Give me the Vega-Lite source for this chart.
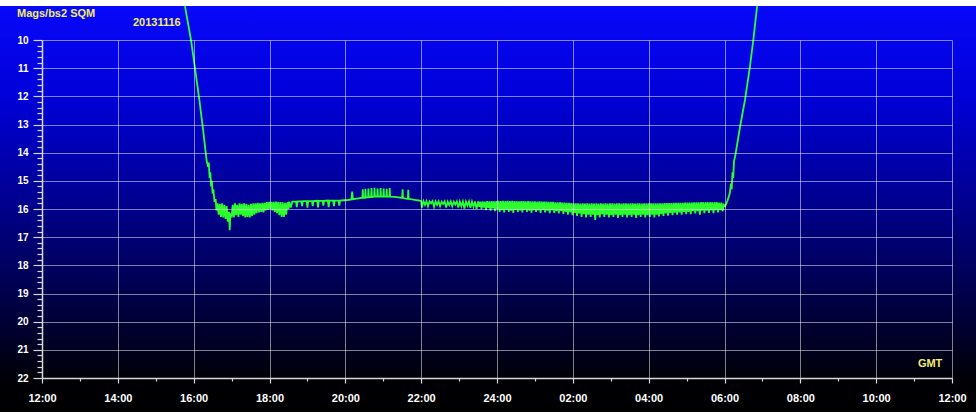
{
 "$schema": "https://vega.github.io/schema/vega-lite/v6.json",
 "width": 910,
 "height": 338,
 "autosize": {"type": "none"},
 "padding": {"left": 42, "top": 40, "right": 24, "bottom": 34},
 "background": "#ffffff",
 "config": {
  "view": {"stroke": null},
  "axis": {"labelFont": "Liberation Sans", "labelFontWeight": "bold", "labelColor": "#ffffff", "domainColor": "#d8d8d8", "domainWidth": 1.5, "tickColor": "#d8d8d8", "tickWidth": 1.2, "gridColor": "#ffffff", "gridWidth": 1}
 },
 "datasets": {
  "bg": [{"x0": 10.8, "x1": 36.7, "y0": 8.79, "y1": 23.4}],
  "notes": [
   {"t": 11.34, "v": 9.19, "label": "Mags/bs2 SQM"},
   {"t": 14.40, "v": 9.50, "label": "20131116"},
   {"t": 35.10, "v": 21.62, "label": "GMT"}
  ],
  "sqm": [
   {"t":15.77,"v":8.8},{"t":15.85,"v":9.4},{"t":15.93,"v":10.0},{"t":16.04,"v":11.05},{"t":16.15,"v":12.13},{"t":16.25,"v":13.2},{"t":16.34,"v":14.26},{"t":16.38,"v":14.5},{"t":16.40,"v":14.35},{"t":16.42,"v":14.9},{"t":16.44,"v":14.7},{"t":16.46,"v":15.2},{"t":16.48,"v":15.0},{"t":16.50,"v":15.45},{"t":16.52,"v":15.3},{"t":16.55,"v":15.75},{"t":16.58,"v":15.65},
   {"t":16.60,"v":16.05},{"t":16.63,"v":15.8},{"t":16.66,"v":16.2},{"t":16.69,"v":15.82},{"t":16.72,"v":16.28},{"t":16.75,"v":15.8},{"t":16.78,"v":16.3},{"t":16.81,"v":15.85},{"t":16.84,"v":16.35},{"t":16.87,"v":15.9},{"t":16.90,"v":16.45},{"t":16.93,"v":16.1},{"t":16.95,"v":16.75},{"t":16.97,"v":16.15},{"t":17.00,"v":16.3},{"t":17.03,"v":15.85},{"t":17.06,"v":16.3},{"t":17.09,"v":15.8},{"t":17.12,"v":16.22},{"t":17.15,"v":15.85},{"t":17.18,"v":16.28},{"t":17.21,"v":15.8},{"t":17.24,"v":16.2},{"t":17.27,"v":15.82},{"t":17.30,"v":16.25},{"t":17.33,"v":15.8},{"t":17.36,"v":16.3},{"t":17.39,"v":15.82},{"t":17.42,"v":16.28},{"t":17.45,"v":15.85},{"t":17.48,"v":16.3},{"t":17.51,"v":15.82},{"t":17.54,"v":16.25},{"t":17.57,"v":15.8},{"t":17.60,"v":16.2},{"t":17.63,"v":15.8},{"t":17.66,"v":16.15},{"t":17.69,"v":15.78},{"t":17.72,"v":16.12},{"t":17.75,"v":15.8},{"t":17.78,"v":16.1},{"t":17.81,"v":15.78},{"t":17.84,"v":16.12},{"t":17.87,"v":15.78},{"t":17.90,"v":16.05},{"t":17.93,"v":15.76},{"t":17.96,"v":16.02},{"t":17.99,"v":15.75},{"t":18.02,"v":16.0},{"t":18.05,"v":15.75},{"t":18.08,"v":16.05},{"t":18.11,"v":15.75},{"t":18.14,"v":16.1},{"t":18.17,"v":15.74},{"t":18.20,"v":16.15},{"t":18.23,"v":15.75},{"t":18.26,"v":16.22},{"t":18.29,"v":15.75},{"t":18.32,"v":16.28},{"t":18.35,"v":15.76},{"t":18.38,"v":16.28},{"t":18.41,"v":15.78},{"t":18.44,"v":16.2},{"t":18.47,"v":15.76},{"t":18.50,"v":16.0},{"t":18.52,"v":15.74},
   {"t":18.56,"v":15.95},{"t":18.60,"v":15.74},{"t":18.70,"v":15.73},{"t":18.72,"v":15.93},{"t":18.74,"v":15.73},{"t":18.84,"v":15.72},{"t":18.86,"v":15.9},{"t":18.88,"v":15.72},{"t":18.98,"v":15.72},{"t":19.00,"v":15.95},{"t":19.02,"v":15.72},{"t":19.12,"v":15.72},{"t":19.14,"v":15.9},{"t":19.16,"v":15.72},{"t":19.26,"v":15.71},{"t":19.28,"v":15.94},{"t":19.30,"v":15.71},{"t":19.40,"v":15.71},{"t":19.42,"v":15.88},{"t":19.44,"v":15.71},{"t":19.54,"v":15.7},{"t":19.56,"v":15.93},{"t":19.58,"v":15.7},{"t":19.68,"v":15.7},{"t":19.70,"v":15.9},{"t":19.72,"v":15.7},{"t":19.82,"v":15.7},{"t":19.84,"v":15.88},{"t":19.86,"v":15.7},{"t":19.96,"v":15.69},{"t":20.06,"v":15.68},{"t":20.16,"v":15.66},{"t":20.18,"v":15.38},{"t":20.20,"v":15.65},
   {"t":20.35,"v":15.62},{"t":20.45,"v":15.6},{"t":20.46,"v":15.3},{"t":20.47,"v":15.6},{"t":20.52,"v":15.6},{"t":20.53,"v":15.28},{"t":20.54,"v":15.59},{"t":20.60,"v":15.58},{"t":20.61,"v":15.27},{"t":20.62,"v":15.58},{"t":20.68,"v":15.57},{"t":20.69,"v":15.26},{"t":20.70,"v":15.57},{"t":20.76,"v":15.56},{"t":20.77,"v":15.25},{"t":20.78,"v":15.56},{"t":20.84,"v":15.56},{"t":20.85,"v":15.27},{"t":20.86,"v":15.56},{"t":20.92,"v":15.56},{"t":20.93,"v":15.26},{"t":20.94,"v":15.56},{"t":21.00,"v":15.56},{"t":21.01,"v":15.27},{"t":21.02,"v":15.56},{"t":21.08,"v":15.56},{"t":21.09,"v":15.28},{"t":21.10,"v":15.56},{"t":21.16,"v":15.56},{"t":21.17,"v":15.26},{"t":21.18,"v":15.56},{"t":21.30,"v":15.57},{"t":21.45,"v":15.6},{"t":21.50,"v":15.61},{"t":21.51,"v":15.3},{"t":21.52,"v":15.61},{"t":21.60,"v":15.63},{"t":21.65,"v":15.64},{"t":21.66,"v":15.32},{"t":21.67,"v":15.64},{"t":21.80,"v":15.67},{"t":21.90,"v":15.69},{"t":21.96,"v":15.7},
   {"t":22.00,"v":15.72},{"t":22.02,"v":15.95},{"t":22.06,"v":15.72},{"t":22.10,"v":15.85},{"t":22.14,"v":15.72},{"t":22.18,"v":15.9},{"t":22.22,"v":15.73},{"t":22.26,"v":15.8},{"t":22.30,"v":15.72},{"t":22.34,"v":15.92},{"t":22.38,"v":15.73},{"t":22.42,"v":15.85},{"t":22.46,"v":15.73},{"t":22.50,"v":15.9},{"t":22.54,"v":15.74},{"t":22.58,"v":15.82},{"t":22.62,"v":15.73},{"t":22.66,"v":15.95},{"t":22.70,"v":15.74},{"t":22.74,"v":15.86},{"t":22.78,"v":15.73},{"t":22.82,"v":15.9},{"t":22.86,"v":15.74},{"t":22.90,"v":15.84},{"t":22.94,"v":15.73},{"t":22.98,"v":15.95},
   {"t":23.02,"v":15.74},{"t":23.06,"v":15.9},{"t":23.10,"v":15.73},{"t":23.14,"v":15.98},{"t":23.18,"v":15.74},{"t":23.22,"v":15.88},{"t":23.26,"v":15.73},{"t":23.30,"v":15.96},{"t":23.34,"v":15.74},{"t":23.38,"v":15.92},{"t":23.42,"v":15.73},{"t":23.46,"v":16.0},
   {"t":23.50,"v":15.73},{"t":23.53,"v":15.92},{"t":23.56,"v":15.74},{"t":23.59,"v":16.0},{"t":23.62,"v":15.73},{"t":23.65,"v":15.95},{"t":23.68,"v":15.74},{"t":23.71,"v":16.04},{"t":23.74,"v":15.72},{"t":23.77,"v":15.96},{"t":23.80,"v":15.73},{"t":23.83,"v":16.06},{"t":23.86,"v":15.72},{"t":23.89,"v":15.98},{"t":23.92,"v":15.73},{"t":23.95,"v":16.08},{"t":23.98,"v":15.72},
   {"t":24.01,"v":16.0},{"t":24.04,"v":15.71},{"t":24.07,"v":16.1},{"t":24.10,"v":15.72},{"t":24.13,"v":16.04},{"t":24.16,"v":15.71},{"t":24.19,"v":16.12},{"t":24.22,"v":15.72},{"t":24.25,"v":16.02},{"t":24.28,"v":15.71},{"t":24.31,"v":16.1},{"t":24.34,"v":15.72},{"t":24.37,"v":16.06},{"t":24.40,"v":15.71},{"t":24.43,"v":16.14},{"t":24.46,"v":15.72},{"t":24.49,"v":16.03},{"t":24.52,"v":15.72},{"t":24.55,"v":16.1},{"t":24.58,"v":15.73},{"t":24.61,"v":16.05},{"t":24.64,"v":15.72},{"t":24.67,"v":16.12},{"t":24.70,"v":15.72},{"t":24.73,"v":16.02},{"t":24.76,"v":15.73},{"t":24.79,"v":16.1},{"t":24.82,"v":15.72},{"t":24.85,"v":16.06},{"t":24.88,"v":15.73},{"t":24.91,"v":16.13},{"t":24.94,"v":15.73},{"t":24.97,"v":16.04},
   {"t":25.00,"v":15.73},{"t":25.03,"v":16.1},{"t":25.06,"v":15.74},{"t":25.09,"v":16.05},{"t":25.12,"v":15.73},{"t":25.15,"v":16.14},{"t":25.18,"v":15.74},{"t":25.21,"v":16.03},{"t":25.24,"v":15.74},{"t":25.27,"v":16.12},{"t":25.30,"v":15.74},{"t":25.33,"v":16.06},{"t":25.36,"v":15.75},{"t":25.39,"v":16.15},{"t":25.42,"v":15.75},{"t":25.45,"v":16.05},{"t":25.48,"v":15.75},{"t":25.51,"v":16.14},{"t":25.54,"v":15.76},{"t":25.57,"v":16.08},{"t":25.60,"v":15.76},{"t":25.63,"v":16.16},{"t":25.66,"v":15.76},{"t":25.69,"v":16.07},{"t":25.72,"v":15.77},{"t":25.75,"v":16.17},{"t":25.78,"v":15.77},{"t":25.81,"v":16.1},{"t":25.84,"v":15.78},{"t":25.87,"v":16.2},{"t":25.90,"v":15.78},{"t":25.93,"v":16.12},{"t":25.96,"v":15.79},{"t":25.99,"v":16.22},
   {"t":26.02,"v":15.8},{"t":26.05,"v":16.14},{"t":26.08,"v":15.8},{"t":26.11,"v":16.25},{"t":26.14,"v":15.8},{"t":26.17,"v":16.16},{"t":26.20,"v":15.81},{"t":26.23,"v":16.28},{"t":26.26,"v":15.8},{"t":26.29,"v":16.18},{"t":26.32,"v":15.81},{"t":26.35,"v":16.3},{"t":26.38,"v":15.8},{"t":26.41,"v":16.2},{"t":26.44,"v":15.81},{"t":26.47,"v":16.28},{"t":26.50,"v":15.8},{"t":26.53,"v":16.2},{"t":26.56,"v":15.81},{"t":26.59,"v":16.39},{"t":26.62,"v":15.8},{"t":26.65,"v":16.22},{"t":26.68,"v":15.81},{"t":26.71,"v":16.3},{"t":26.74,"v":15.8},{"t":26.77,"v":16.18},{"t":26.80,"v":15.81},{"t":26.83,"v":16.28},{"t":26.86,"v":15.8},{"t":26.89,"v":16.2},{"t":26.92,"v":15.81},{"t":26.95,"v":16.3},{"t":26.98,"v":15.8},
   {"t":27.01,"v":16.22},{"t":27.04,"v":15.8},{"t":27.07,"v":16.28},{"t":27.10,"v":15.81},{"t":27.13,"v":16.2},{"t":27.16,"v":15.8},{"t":27.19,"v":16.32},{"t":27.22,"v":15.8},{"t":27.25,"v":16.22},{"t":27.28,"v":15.81},{"t":27.31,"v":16.28},{"t":27.34,"v":15.8},{"t":27.37,"v":16.2},{"t":27.40,"v":15.8},{"t":27.43,"v":16.3},{"t":27.46,"v":15.81},{"t":27.49,"v":16.22},{"t":27.52,"v":15.8},{"t":27.55,"v":16.28},{"t":27.58,"v":15.8},{"t":27.61,"v":16.2},{"t":27.64,"v":15.81},{"t":27.67,"v":16.32},{"t":27.70,"v":15.8},{"t":27.73,"v":16.22},{"t":27.76,"v":15.8},{"t":27.79,"v":16.28},{"t":27.82,"v":15.81},{"t":27.85,"v":16.2},{"t":27.88,"v":15.8},{"t":27.91,"v":16.3},{"t":27.94,"v":15.8},{"t":27.97,"v":16.22},
   {"t":28.00,"v":15.8},{"t":28.03,"v":16.28},{"t":28.06,"v":15.8},{"t":28.09,"v":16.2},{"t":28.12,"v":15.8},{"t":28.15,"v":16.3},{"t":28.18,"v":15.8},{"t":28.21,"v":16.2},{"t":28.24,"v":15.8},{"t":28.27,"v":16.26},{"t":28.30,"v":15.8},{"t":28.33,"v":16.18},{"t":28.36,"v":15.8},{"t":28.39,"v":16.25},{"t":28.42,"v":15.79},{"t":28.45,"v":16.16},{"t":28.48,"v":15.79},{"t":28.51,"v":16.24},{"t":28.54,"v":15.79},{"t":28.57,"v":16.14},{"t":28.60,"v":15.79},{"t":28.63,"v":16.22},{"t":28.66,"v":15.78},{"t":28.69,"v":16.13},{"t":28.72,"v":15.78},{"t":28.75,"v":16.2},{"t":28.78,"v":15.78},{"t":28.81,"v":16.12},{"t":28.84,"v":15.78},{"t":28.87,"v":16.2},{"t":28.90,"v":15.78},{"t":28.93,"v":16.1},{"t":28.96,"v":15.77},{"t":28.99,"v":16.18},
   {"t":29.02,"v":15.77},{"t":29.05,"v":16.1},{"t":29.08,"v":15.77},{"t":29.11,"v":16.18},{"t":29.14,"v":15.77},{"t":29.17,"v":16.08},{"t":29.20,"v":15.76},{"t":29.23,"v":16.16},{"t":29.26,"v":15.76},{"t":29.29,"v":16.08},{"t":29.32,"v":15.76},{"t":29.35,"v":16.2},{"t":29.38,"v":15.76},{"t":29.41,"v":16.06},{"t":29.44,"v":15.76},{"t":29.47,"v":16.15},{"t":29.50,"v":15.76},{"t":29.53,"v":16.06},{"t":29.56,"v":15.76},{"t":29.59,"v":16.14},{"t":29.62,"v":15.76},{"t":29.65,"v":16.05},{"t":29.68,"v":15.76},{"t":29.71,"v":16.15},{"t":29.74,"v":15.76},{"t":29.77,"v":16.04},{"t":29.80,"v":15.76},{"t":29.83,"v":16.12},{"t":29.86,"v":15.77},{"t":29.89,"v":16.04},{"t":29.92,"v":15.77},{"t":29.95,"v":16.08},{"t":29.98,"v":15.85},
   {"t":30.02,"v":15.9},{"t":30.08,"v":15.7},{"t":30.14,"v":15.44},{"t":30.17,"v":15.1},{"t":30.19,"v":15.3},{"t":30.21,"v":14.7},{"t":30.23,"v":14.9},{"t":30.25,"v":14.3},{"t":30.28,"v":14.14},{"t":30.41,"v":13.08},{"t":30.54,"v":12.13},{"t":30.67,"v":10.95},{"t":30.76,"v":10.0},{"t":30.86,"v":8.8}
  ]
 },
 "layer": [
  {
   "data": {"name": "bg"},
   "mark": {"type": "rect", "clip": false, "color": {"gradient": "linear", "x1": 0, "y1": 0, "x2": 0, "y2": 1, "stops": [
     {"offset": 0, "color": "#0808fa"},
     {"offset": 0.23, "color": "#0000d6"},
     {"offset": 0.5, "color": "#000088"},
     {"offset": 0.69, "color": "#00004e"},
     {"offset": 0.84, "color": "#00001e"},
     {"offset": 0.91, "color": "#000005"},
     {"offset": 1, "color": "#000000"}
   ]}},
   "encoding": {
    "x": {"field": "x0", "type": "quantitative", "scale": {"domain": [12, 36], "nice": false, "zero": false},
     "axis": {"title": null, "zindex": 1, "tickCount": 200, "values": [12,13,14,15,16,17,18,19,20,21,22,23,24,25,26,27,28,29,30,31,32,33,34,35,36],
      "labelExpr": "datum.value % 2 ? '' : (datum.value > 24 ? ((datum.value - 24) < 10 ? '0' : '') + (datum.value - 24) : '' + datum.value) + ':00'",
      "labelFontSize": 11, "labelPadding": 9, "labelFlush": false, "labelOverlap": false,
      "grid": true,
      "gridOpacity": {"condition": {"test": "datum.value % 2 == 0", "value": 0.5}, "value": 0},
      "tickSize": {"condition": {"test": "datum.value % 2 == 0", "value": 5}, "value": 3}}},
    "x2": {"field": "x1"},
    "y": {"field": "y0", "type": "quantitative", "scale": {"domain": [10, 22], "reverse": true, "nice": false, "zero": false},
     "axis": {"title": null, "zindex": 1, "tickCount": 200, "values": [10,10.2,10.4,10.6,10.8,11,11.2,11.4,11.6,11.8,12,12.2,12.4,12.6,12.8,13,13.2,13.4,13.6,13.8,14,14.2,14.4,14.6,14.8,15,15.2,15.4,15.6,15.8,16,16.2,16.4,16.6,16.8,17,17.2,17.4,17.6,17.8,18,18.2,18.4,18.6,18.8,19,19.2,19.4,19.6,19.8,20,20.2,20.4,20.6,20.8,21,21.2,21.4,21.6,21.8,22],
      "labelExpr": "abs(datum.value - round(datum.value)) < 0.01 ? '' + round(datum.value) : ''",
      "labelFontSize": 10, "labelPadding": 5, "labelFlush": false, "labelOverlap": false,
      "grid": true,
      "gridOpacity": {"condition": {"test": "abs(datum.value - round(datum.value)) < 0.01", "value": 0.5}, "value": 0},
      "tickSize": {"condition": {"test": "abs(datum.value - round(datum.value)) < 0.01", "value": 9}, "value": 5}}},
    "y2": {"field": "y1"}
   }
  },
  {
   "data": {"name": "sqm"},
   "mark": {"type": "line", "clip": false, "color": "#2cff2c", "strokeWidth": 1.8},
   "encoding": {
    "x": {"field": "t", "type": "quantitative"},
    "y": {"field": "v", "type": "quantitative"}
   }
  },
  {
   "data": {"name": "notes"},
   "mark": {"type": "text", "clip": false, "align": "left", "baseline": "alphabetic", "font": "Liberation Sans", "fontWeight": "bold", "fontSize": 11, "color": "#f2ee6a"},
   "encoding": {
    "x": {"field": "t", "type": "quantitative"},
    "y": {"field": "v", "type": "quantitative"},
    "text": {"field": "label"}
   }
  }
 ]
}
